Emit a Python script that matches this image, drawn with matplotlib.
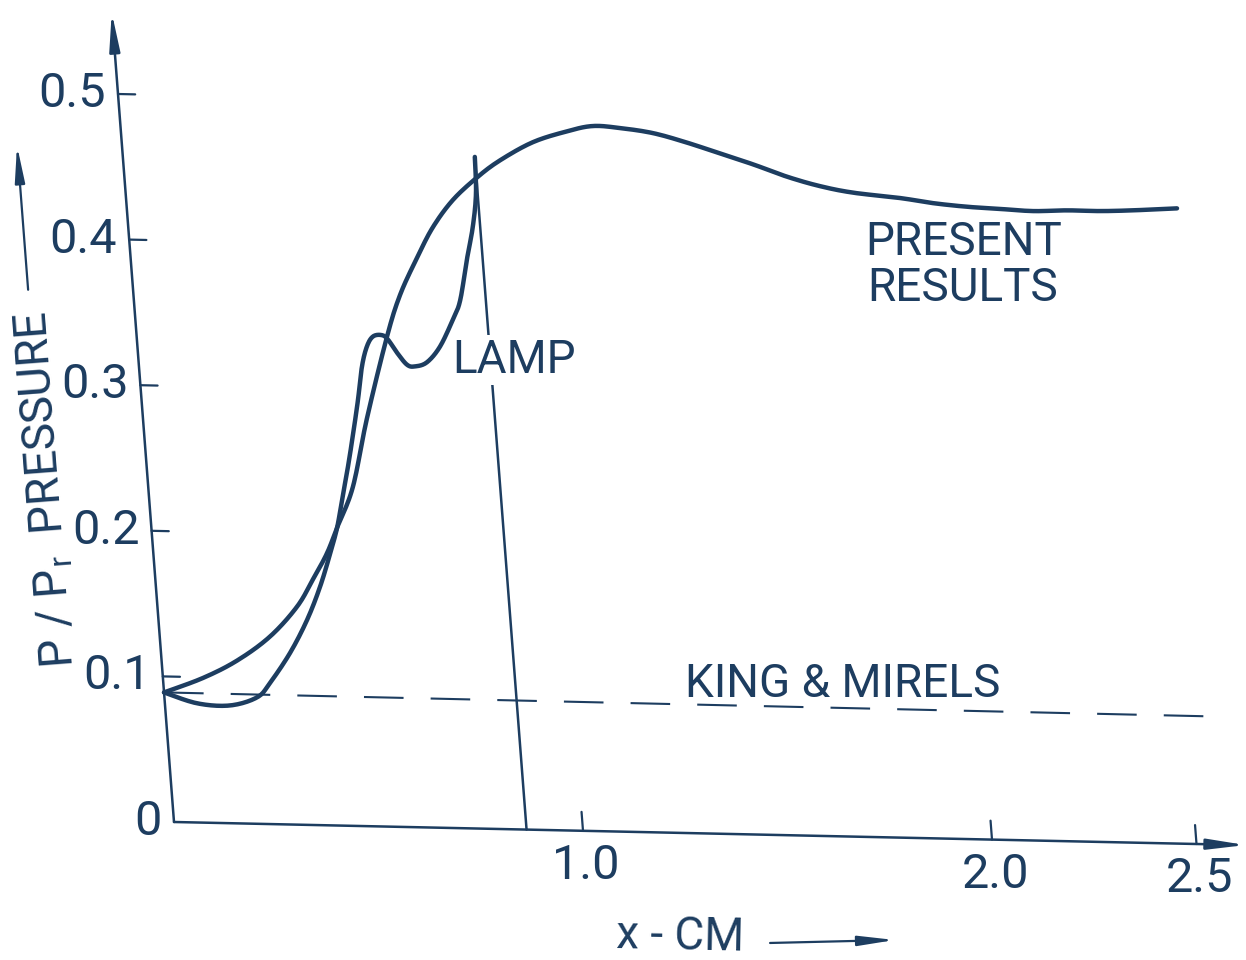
import numpy as np
import matplotlib
matplotlib.use("Agg")
import matplotlib.pyplot as plt
from matplotlib.transforms import Affine2D, offset_copy
from matplotlib.patches import FancyArrowPatch

plt.rcParams["mathtext.default"] = "regular"

INK = "#1d3d60"
FONT = ["Roboto", "DejaVu Sans"]

# Wall pressure ratio P/Pr versus distance x (cm) -- present results
present_x = [0.0, 0.098, 0.185, 0.270, 0.342, 0.386, 0.425, 0.455, 0.501, 0.548,
             0.613, 0.653, 0.702, 0.746, 0.800, 0.864, 0.923, 1.007, 1.093, 1.157,
             1.223, 1.303, 1.384, 1.463, 1.542, 1.623, 1.702, 1.782, 1.896, 1.975,
             2.058, 2.138, 2.219, 2.302, 2.383, 2.464, 2.572]
present_p = [0.089, 0.0995, 0.112, 0.129, 0.150, 0.169, 0.187, 0.205, 0.233, 0.280,
             0.337, 0.366, 0.392, 0.413, 0.432, 0.448, 0.460, 0.473, 0.481, 0.485,
             0.484, 0.481, 0.475, 0.468, 0.461, 0.453, 0.447, 0.443, 0.440, 0.437,
             0.435, 0.434, 0.433, 0.434, 0.434, 0.435, 0.437]

# LAMP solution, terminated by a shock
lamp_x = [0.0, 0.079, 0.159, 0.227, 0.261, 0.316, 0.364, 0.402, 0.433, 0.455,
          0.472, 0.493, 0.512, 0.530, 0.546, 0.562, 0.579, 0.601, 0.615, 0.635,
          0.657, 0.676, 0.706, 0.741, 0.778, 0.799, 0.823, 0.844, 0.858, 0.862]
lamp_p = [0.089, 0.082, 0.081, 0.087, 0.097, 0.118, 0.141, 0.164, 0.187, 0.205,
          0.224, 0.247, 0.270, 0.293, 0.316, 0.330, 0.337, 0.338, 0.335, 0.326,
          0.318, 0.317, 0.320, 0.331, 0.350, 0.363, 0.391, 0.414, 0.437, 0.462]
lamp_shock_x = 0.862

# King & Mirels
km_x = [0.0, 2.55]
km_p = [0.089, 0.088]

xticks = [1.0, 2.0, 2.5]
xticklabels = ["1.0", "2.0", "2.5"]
yticks = [0.0, 0.1, 0.2, 0.3, 0.4, 0.5]
yticklabels = ["0", "0.1", "0.2", "0.3", "0.4", "0.5"]


def catmull_rom(xs, ys, n=12):
    """Smooth drawing path passing through every given point."""
    p = np.column_stack([xs, ys]).astype(float)
    p = np.vstack([p[0], p, p[-1]])
    t = np.linspace(0.0, 1.0, n, endpoint=False)[:, None]
    out = []
    for i in range(1, len(p) - 2):
        p0, p1, p2, p3 = p[i - 1], p[i], p[i + 1], p[i + 2]
        out.append(0.5 * (2 * p1 + (p2 - p0) * t
                          + (2 * p0 - 5 * p1 + 4 * p2 - p3) * t ** 2
                          + (3 * p1 - p0 - 3 * p2 + p3) * t ** 3))
    out.append(p[-2][None, :])
    pts = np.vstack(out)
    return pts[:, 0], pts[:, 1]


W, H = 1246, 960
fig = plt.figure(figsize=(W / 100, H / 100), dpi=100)
fig.patch.set_facecolor("white")

# axes frame: origin and pixel scale of one data unit
x0, y0 = 174, 138
sx, sy = 409, 1456
xlim = (0.0, 2.6)
ylim = (0.0, 0.55)
ax = fig.add_axes([x0 / W, y0 / H, sx * xlim[1] / W, sy * ylim[1] / H])
ax.set_xlim(*xlim)
ax.set_ylim(*ylim)
ax.axis("off")

# the drawing's frame is slightly skewed: lean the y axis and tilt the x axis
a = -112.0 / 1456.0
b = -8.8 / 409.0
shear = Affine2D(np.array([[1.0, a, -a * y0],
                           [b, 1.0, -b * x0],
                           [0.0, 0.0, 1.0]]))
T = ax.transData + shear

line_kw = dict(transform=T, color=INK, clip_on=False,
               solid_capstyle="round", solid_joinstyle="round")

# axes with arrowheads
for start, end in [((0, 0), (0, 0.556)), ((0, 0), (2.62, 0))]:
    ax.add_patch(FancyArrowPatch(start, end, transform=T,
                                 arrowstyle="-|>,head_length=2.3,head_width=0.32",
                                 mutation_scale=10, lw=1.8, color=INK,
                                 shrinkA=0, shrinkB=0, clip_on=False))

# tick marks
for v in yticks[1:]:
    ax.plot([0, 0.042], [v, v], lw=1.6, **line_kw)
for v in xticks:
    ax.plot([v, v], [0, 0.013], lw=1.6, **line_kw)

# tick labels
tk = dict(color=INK, fontsize=35, family=FONT, fontweight="normal")
ty = offset_copy(T, fig=fig, x=-12, y=0, units="dots")
for v, s in zip(yticks, yticklabels):
    ax.text(0, v, s, transform=ty, ha="right", va="center", **tk)
tx = offset_copy(T, fig=fig, x=3, y=-12, units="dots")
for v, s in zip(xticks, xticklabels):
    ax.text(v, 0, s, transform=tx, ha="center", va="top", **tk)

# curves
ax.plot(km_x, km_p, lw=1.5, linestyle=(0, (19, 13)), transform=T, color=INK,
        clip_on=False)
px, py = catmull_rom(present_x, present_p)
ax.plot(px, py, lw=3.2, **line_kw)
lx, ly = catmull_rom(lamp_x, lamp_p)
ax.plot(lx, ly, lw=3.2, **line_kw)
ax.plot([lamp_shock_x, lamp_shock_x], [lamp_p[-1], 0.0], lw=1.8, **line_kw)

# annotations
lab = dict(color=INK, fontsize=33, family=FONT, fontweight="normal")
ax.text(1.799, 0.400, "PRESENT", transform=T, ha="left", va="baseline", **lab)
ax.text(1.795, 0.369, "RESULTS", transform=T, ha="left", va="baseline", **lab)
ax.text(0.765, 0.313, "LAMP", transform=T, ha="left", va="baseline",
        bbox=dict(facecolor="white", edgecolor="none", pad=2), zorder=5, **lab)
ax.text(1.275, 0.0936, "KING & MIRELS", transform=T, ha="left", va="baseline",
        **lab)

# axis titles with direction arrows
ax.text(-0.249, 0.2265, "P / P$_{r}$  PRESSURE", transform=T, ha="center",
        va="center", rotation=94.4, rotation_mode="anchor", **lab)
ax.add_patch(FancyArrowPatch((-0.257, 0.364), (-0.257, 0.463), transform=T,
                             arrowstyle="-|>,head_length=2.2,head_width=0.3",
                             mutation_scale=10, lw=1.6, color=INK,
                             shrinkA=0, shrinkB=0, clip_on=False))
ax.text(1.217, -0.0712, "x - CM", transform=T, ha="center", va="center",
        rotation=-1.2, rotation_mode="anchor", **lab)
ax.add_patch(FancyArrowPatch((1.437, -0.0744), (1.743, -0.0705), transform=T,
                             arrowstyle="-|>,head_length=2.2,head_width=0.3",
                             mutation_scale=10, lw=1.6, color=INK,
                             shrinkA=0, shrinkB=0, clip_on=False))

fig.savefig("out.png", dpi=100, facecolor="white")
